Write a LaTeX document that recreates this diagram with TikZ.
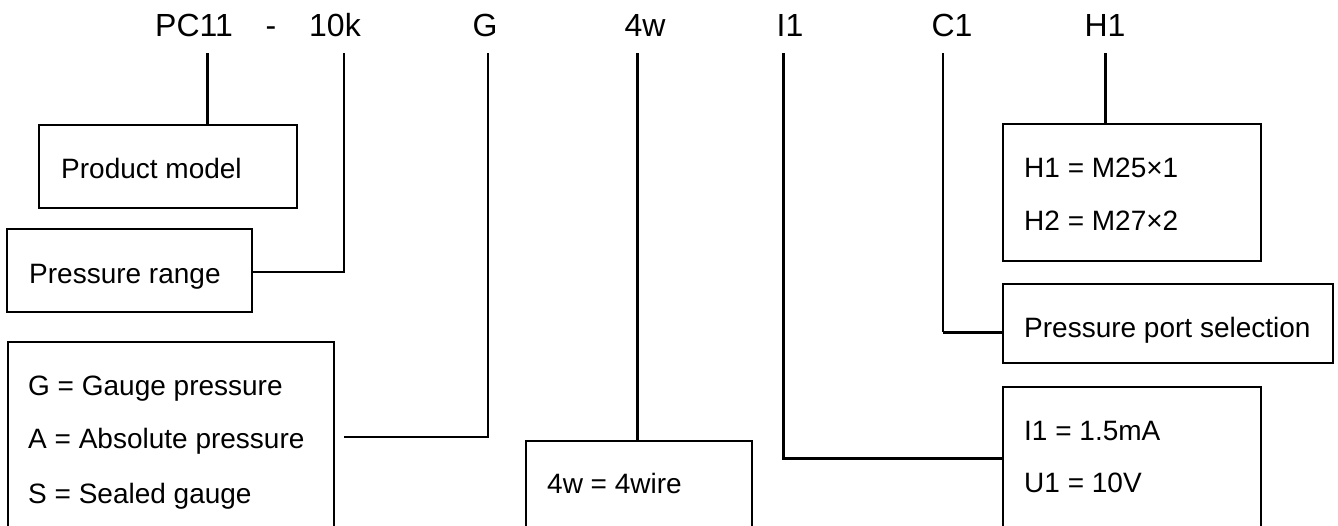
\documentclass[tikz,border=0pt]{standalone}
\usepackage{fontspec}
\setmainfont{Liberation Sans}
\begin{document}
\begin{tikzpicture}[x=1pt,y=-1pt,
  box/.style={draw, line width=1.5pt, rectangle, inner sep=0pt, outer sep=0pt, anchor=north west},
  code/.style={font=\fontsize{32}{38}\selectfont, anchor=base, inner sep=0pt},
  txt/.style={font=\fontsize{28}{33}\selectfont, anchor=base west, inner sep=0pt},
  lead/.style={line width=1.6pt},
  heavy/.style={line width=3pt}]
\useasboundingbox (0,0) rectangle (1338,525);
\clip (0,0) rectangle (1338,525);

% ordering code
\node[code] (cPC) at (194,36) {PC11};
\node[code] (cDash) at (271,36) {-};
\node[code] (cRange) at (335,36) {10k};
\node[code] (cG) at (485,36) {G};
\node[code] (cW) at (645,36) {4w};
\node[code] (cI) at (790,36) {I1};
\node[code] (cC) at (952,36) {C1};
\node[code] (cH) at (1105,36) {H1};

% upper ends of the leader lines
\coordinate (tPC) at (207,53);
\coordinate (tRange) at (344,53);
\coordinate (tG) at (488,53);
\coordinate (tW) at (637,53);
\coordinate (tI) at (783,53);
\coordinate (tC) at (943,53);
\coordinate (tH) at (1105,53);

% explanation boxes
\node[box, minimum width=258pt, minimum height=83pt] (pm) at (39,125) {};
\node[box, minimum width=245pt, minimum height=83pt] (pr) at (7,229) {};
\node[box, minimum width=326pt, minimum height=220pt] (gb) at (8,342) {};
\node[box, minimum width=226pt, minimum height=120pt] (wb) at (526,441) {};
\node[box, minimum width=258pt, minimum height=137pt] (hb) at (1003,124) {};
\node[box, minimum width=330pt, minimum height=79pt] (ps) at (1003,284) {};
\node[box, minimum width=258pt, minimum height=170pt] (ib) at (1003,387) {};

% box texts
\node[txt] (pmt) at (61,178) {Product model};
\node[txt] (prt) at (29,283) {Pressure range};
\node[txt] (g1) at (28,395) {G = Gauge pressure};
\node[txt] (g2) at (28,448) {A = Absolute pressure};
\node[txt] (g3) at (28,503) {S = Sealed gauge};
\node[txt] (w1) at (547,493) {4w = 4wire};
\node[txt] (h1) at (1024,177) {H1 = M25×1};
\node[txt] (h2) at (1024,230) {H2 = M27×2};
\node[txt] (pst) at (1024,337) {Pressure port selection};
\node[txt] (i1) at (1024,440) {I1 = 1.5mA};
\node[txt] (i2) at (1024,492) {U1 = 10V};

% leader lines
\coordinate (gEnd) at (344,437);
\draw[heavy] (tPC) -- (tPC |- pm.north);
\draw[lead] (tRange) |- ([yshift=-1.5pt]pr.east);
\draw[lead] (tG) |- (gEnd);
\draw[heavy] (tW) -- (tW |- wb.north);
\draw[heavy] (tI) |- ([yshift=-71pt]ib.north west);
\draw[lead] (tC) -- (tC |- 0,332);
\draw[heavy] (tC |- 0,332) -- ([yshift=-8.5pt]ps.west);
\draw[heavy] (tH) -- (tH |- hb.north);
\end{tikzpicture}
\end{document}
